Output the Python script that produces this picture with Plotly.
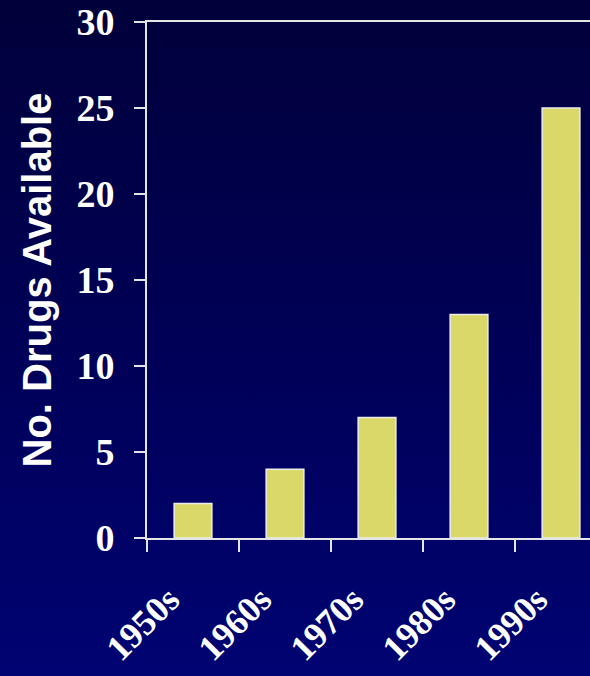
import base64
import plotly.graph_objects as go

# Number of drugs available per decade
decades = ["1950s", "1960s", "1970s", "1980s", "1990s"]
drug_counts = [2, 4, 7, 13, 25]

W, H = 590, 676
M_L, M_R, M_T, M_B = 147, 0, 22, 138
plot_w = W - M_L - M_R
plot_h = H - M_T - M_B

# Vertical navy gradient for the slide-style background
svg = (
    '<svg xmlns="http://www.w3.org/2000/svg" width="100" height="100" preserveAspectRatio="none">'
    '<defs><linearGradient id="g" x1="0" y1="0" x2="0" y2="1">'
    '<stop offset="0" stop-color="#00003a"/>'
    '<stop offset="0.5" stop-color="#000056"/>'
    '<stop offset="1" stop-color="#000372"/>'
    '</linearGradient></defs>'
    '<rect width="100" height="100" fill="url(#g)"/></svg>'
)
bg_src = "data:image/svg+xml;base64," + base64.b64encode(svg.encode()).decode()

fig = go.Figure(
    go.Bar(
        x=decades,
        y=drug_counts,
        width=0.41,
        marker=dict(color="#dbd86a", line=dict(color="#ececec", width=1.5)),
    )
)

axis_line = "#e4e4e4"
serif = "Liberation Serif, Times New Roman, serif"
ytick_font = dict(family=serif, size=38, color="white", weight="bold")
xtick_font = dict(family=serif, size=36, color="white", weight="bold")

fig.update_layout(
    width=W,
    height=H,
    margin=dict(l=M_L, r=M_R, t=M_T, b=M_B, pad=0),
    paper_bgcolor="#000050",
    plot_bgcolor="rgba(0,0,0,0)",
    showlegend=False,
    images=[dict(
        source=bg_src,
        xref="paper", yref="paper",
        x=-M_L / plot_w, y=1 + M_T / plot_h,
        sizex=W / plot_w, sizey=H / plot_h,
        sizing="stretch", layer="below",
        xanchor="left", yanchor="top",
    )],
    xaxis=dict(
        range=[-0.5, 4.315],
        automargin=False,
        showgrid=False,
        showline=True, linecolor=axis_line, linewidth=2, mirror=True,
        ticks="outside", tickson="boundaries", ticklen=12, tickwidth=2,
        tickcolor=axis_line,
        tickangle=-45,
        tickfont=xtick_font,
        ticklabelstandoff=24,
        ticklabelshift=-24,
        fixedrange=True,
    ),
    yaxis=dict(
        range=[0, 30],
        dtick=5,
        automargin=False,
        showgrid=False, zeroline=False,
        showline=True, linecolor=axis_line, linewidth=2,
        ticks="outside", ticklen=11, tickwidth=2, tickcolor=axis_line,
        tickfont=ytick_font,
        ticklabelstandoff=12,
        title=dict(
            text="No. Drugs Available",
            font=dict(family="Liberation Sans, Arial, sans-serif", size=40,
                      color="white", weight="bold"),
            standoff=12,
        ),
        fixedrange=True,
    ),
)

fig.write_html("out.html", config={"displayModeBar": False})
